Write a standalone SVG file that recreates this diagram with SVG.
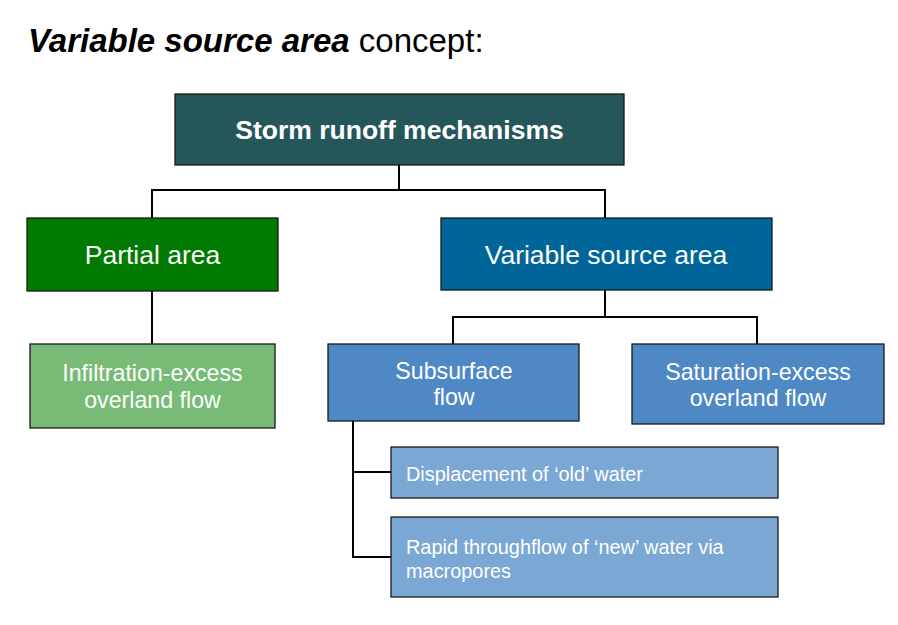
<svg xmlns="http://www.w3.org/2000/svg" width="898" height="625" viewBox="0 0 898 625">
<style>
.box{stroke:#1a1a1a;stroke-width:1.3}
.t{font-family:"Liberation Sans",Arial,sans-serif;fill:#fff}
.c{fill:none;stroke:#000;stroke-width:2}
</style>
<rect width="898" height="625" fill="#fff"/>
<text x="28" y="52" font-family="'Liberation Sans', Arial, sans-serif" font-size="33" fill="#000"><tspan font-weight="bold" font-style="italic">Variable source area</tspan> concept:</text>
<g id="connectors">
<path class="c" d="M399,165V190M152,218V190H605V218"/>
<path class="c" d="M152,291V344"/>
<path class="c" d="M605,290V317M453,344V317H757V344"/>
<path class="c" d="M353,421V557H391M353,472H391"/>
</g>
<g id="storm">
<rect class="box" x="175" y="94" width="449" height="71" fill="#25565A"/>
<text class="t" x="399.5" y="139" font-size="26.5" font-weight="bold" text-anchor="middle">Storm runoff mechanisms</text>
</g>
<g id="partial">
<rect class="box" x="27" y="218" width="251" height="73" fill="#007A00"/>
<text class="t" x="152.5" y="264" font-size="26.5" text-anchor="middle">Partial area</text>
</g>
<g id="vsa">
<rect class="box" x="441" y="218" width="331" height="72" fill="#006699"/>
<text class="t" x="606" y="264" font-size="26.5" text-anchor="middle">Variable source area</text>
</g>
<g id="infiltration">
<rect class="box" x="30" y="344" width="245" height="84" fill="#77BB77"/>
<text class="t" x="152.5" y="381" font-size="23.2" text-anchor="middle">Infiltration-excess</text>
<text class="t" x="152.5" y="408" font-size="23.2" text-anchor="middle">overland flow</text>
</g>
<g id="subsurface">
<rect class="box" x="328" y="344" width="251" height="77" fill="#4E88C5"/>
<text class="t" x="454" y="379" font-size="23.2" text-anchor="middle">Subsurface</text>
<text class="t" x="454" y="405" font-size="23.2" text-anchor="middle">flow</text>
</g>
<g id="saturation">
<rect class="box" x="632" y="344" width="252" height="80" fill="#4E88C5"/>
<text class="t" x="758" y="380" font-size="23.2" text-anchor="middle">Saturation-excess</text>
<text class="t" x="758" y="406" font-size="23.2" text-anchor="middle">overland flow</text>
</g>
<g id="displacement">
<rect class="box" x="391" y="447" width="387" height="51" fill="#7BA7D4"/>
<text class="t" x="406" y="481" font-size="19.9">Displacement of ‘old’ water</text>
</g>
<g id="rapid">
<rect class="box" x="391" y="517" width="387" height="80" fill="#7BA7D4"/>
<text class="t" x="406" y="554" font-size="19.9">Rapid throughflow of ‘new’ water via</text>
<text class="t" x="406" y="578" font-size="19.9">macropores</text>
</g>
</svg>
